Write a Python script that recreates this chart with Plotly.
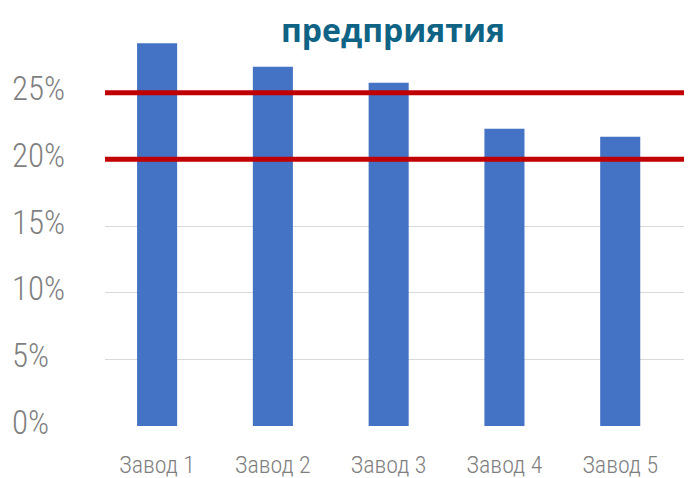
import plotly.graph_objects as go

categories = ["Завод 1", "Завод 2", "Завод 3", "Завод 4", "Завод 5"]
values = [28.7, 26.95, 25.75, 22.3, 21.7]
thresholds = [25, 20]
tick_vals = [0, 5, 10, 15, 20, 25]
tick_text = ["0%", "5%", "10%", "15%", "20%", "25%"]
title_text = "предприятия"

# page has an 8px body margin, so the figure is 8px smaller than the window
W, H = 684, 470
ml, mr, mt, mb = 0, 0, 18, 52
pw = W - ml - mr
plot_left = 97
FAM = "Roboto Condensed, Liberation Sans Narrow, DejaVu Sans Condensed, Roboto, sans-serif"

fig = go.Figure()
fig.add_trace(go.Bar(x=list(range(len(categories))), y=values,
                     marker=dict(color="#4472C4", line=dict(width=0)),
                     hoverinfo="skip", showlegend=False))
fig.add_trace(go.Scatter(x=list(range(len(categories))), y=values, yaxis="y2",
                         mode="markers", marker=dict(opacity=0), hoverinfo="skip",
                         showlegend=False))

for t in thresholds:
    fig.add_shape(type="line", xref="x domain", x0=0, x1=1, yref="y", y0=t, y1=t,
                  line=dict(color="#C00000", width=5), layer="above")

fig.update_layout(
    width=W, height=H,
    margin=dict(l=ml, r=mr, t=mt, b=mb, autoexpand=False),
    paper_bgcolor="white", plot_bgcolor="white",
    bargap=0.654,
    title=dict(text="<b>%s</b>" % title_text, x=(385 - ml) / pw, xref="paper",
               xanchor="center", y=1 - 23 / H, yref="container", yanchor="middle",
               automargin=False,
               font=dict(family="Open Sans", size=32, color="#0F6384")),
    xaxis=dict(domain=[(plot_left - ml) / pw, 1], range=[-0.45, 4.62],
               tickvals=list(range(len(categories))), ticktext=categories,
               showgrid=False, zeroline=False, showline=False, ticks="",
               ticklabelstandoff=22, automargin=False,
               tickfont=dict(family=FAM, size=24, color="#7F7F7F", weight=300)),
    yaxis=dict(range=[0, 30], tickvals=tick_vals, showticklabels=False,
               showgrid=True, gridcolor="#D9D9D9", gridwidth=1, zeroline=False,
               showline=False, ticks="", automargin=False),
    yaxis2=dict(range=[0, 30], overlaying="y", anchor="free", position=0, side="left",
                tickvals=tick_vals, ticktext=tick_text, ticklabelposition="inside",
                ticklabeloverflow="allow", automargin=False, ticklabelshift=-4,
                showgrid=False, zeroline=False, showline=False, ticks="",
                tickfont=dict(family=FAM, size=33, color="#7F7F7F", weight=300)),
)

fig.write_html("out.html")
